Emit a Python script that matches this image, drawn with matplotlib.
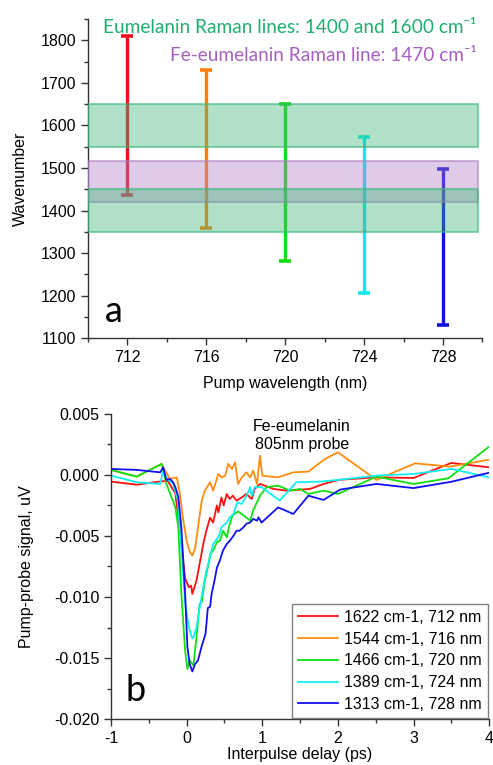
import numpy as np
import matplotlib
matplotlib.use("Agg")
import matplotlib.pyplot as plt
from matplotlib.ticker import MultipleLocator, FormatStrFormatter

plt.rcParams['font.family'] = ['Liberation Sans', 'DejaVu Sans']
plt.rcParams['axes.unicode_minus'] = False

# ---- panel a: Raman-shift ranges per pump wavelength ----
pump_wl = [712, 716, 720, 724, 728]
wn_high = [1810, 1730, 1650, 1574, 1497]
wn_low = [1436, 1358, 1281, 1206, 1131]
bar_colors = ['#f01020', '#ff8010', '#10e010', '#10e8f0', '#1010e0']

# Raman bands: green (1600), purple (1470), green (1400)
band_low = [1550, 1420, 1350]
band_high = [1650, 1517, 1450]
band_colors = ['#3cb878', '#b07fc5', '#3cb878']

# ---- panel b: pump-probe traces (values in 1e-3 uV) ----
red_x = [-1, -0.66, -0.33, -0.25, -0.15, -0.08, -0.02, 0.03, 0.06, 0.075, 0.13, 0.18, 0.22, 0.26,
         0.31, 0.35, 0.40, 0.42, 0.46, 0.49, 0.53, 0.57, 0.61, 0.66, 0.73, 0.79, 0.86, 0.90, 0.97,
         1.15, 1.32, 1.63, 1.81, 2.02, 2.51, 3.0, 3.5, 4.0]
red_y = [-0.55, -0.8, -0.52, -0.5, -1.5, -5.0, -8.5, -9.2, -9.07, -9.75, -8.66, -7.0, -5.66, -4.57,
         -3.5, -3.9, -2.5, -3.07, -1.84, -2.5, -1.56, -1.97, -1.7, -2.1, -1.84, -1.56, -1.97, -1.15, -0.74,
         -1.15, -1.29, -1.15, -0.74, -0.4, -0.2, -0.25, 0.98, 0.62]

orange_x = [-1, -0.66, -0.33, -0.31, -0.22, -0.13, -0.09, -0.05, 0.0, 0.04, 0.075, 0.11, 0.15, 0.20,
            0.24, 0.31, 0.35, 0.42, 0.46, 0.51, 0.55, 0.60, 0.64, 0.68, 0.73, 0.79, 0.84, 0.88, 0.93,
            0.97, 1.0, 1.21, 1.41, 1.61, 1.83, 2.0, 2.51, 3.02, 3.48, 4.0]
orange_y = [0.41, -0.14, 0.9, 0.62, -0.33, -0.2, -1.56, -3.48, -5.4, -6.3, -6.6, -6.07, -4.3, -2.1,
            -1.29, -0.6, -1.29, 0.08, -0.2, -0.06, 0.9, 0.49, 1.03, -0.74, -0.2, 0.21, -0.2, 0.35, -0.74,
            1.58, -0.06, -0.2, 0.21, 0.27, 1.31, 1.85, -0.41, 0.95, 0.68, 1.25]

green_x = [-1, -0.66, -0.33, -0.27, -0.2, -0.15, -0.11, -0.07, -0.02, 0.01, 0.04, 0.09, 0.13, 0.17,
           0.20, 0.24, 0.29, 0.31, 0.35, 0.40, 0.44, 0.48, 0.53, 0.57, 0.61, 0.68, 0.75, 0.84, 0.88,
           0.97, 1.06, 1.21, 1.37, 1.50, 1.61, 1.81, 2.0, 2.51, 3.0, 3.46, 4.0]
green_y = [0.41, -0.14, 0.9, -0.69, -1.84, -2.66, -4.3, -9.75, -14.4, -15.9, -15.2, -15.6, -13.3, -10.6,
           -10.4, -8.66, -7.3, -6.5, -6.2, -5.5, -5.4, -4.57, -5.1, -4.0, -3.3, -3.0, -3.3, -3.75, -2.9,
           -1.7, -1.0, -0.88, -1.29, -1.15, -1.56, -1.29, -1.56, -0.14, -0.74, -0.28, 2.32]

cyan_x = [-1, -0.66, -0.35, -0.31, -0.25, -0.18, -0.12, -0.07, -0.02, 0.03, 0.075, 0.09, 0.13, 0.18,
          0.22, 0.26, 0.31, 0.35, 0.42, 0.46, 0.53, 0.57, 0.62, 0.67, 0.73, 0.79, 0.84, 0.86, 0.90,
          0.99, 1.23, 1.45, 1.76, 2.0, 2.51, 3.0, 3.5, 4.0]
cyan_y = [-0.06, -0.6, -0.74, 0.35, -0.4, -0.7, -2.0, -6.0, -10.5, -12.5, -13.4, -13.3, -12.5, -10.6,
          -9.2, -7.85, -6.75, -5.66, -5.1, -4.3, -3.9, -3.48, -3.2, -2.25, -2.38, -1.7, -1.0, -1.7, -1.0,
          -1.0, -2.1, -0.6, -0.55, -0.41, -0.06, 0.08, 0.49, -0.2]

blue_x = [-1, -0.66, -0.35, -0.31, -0.27, -0.22, -0.18, -0.15, -0.11, -0.07, -0.02, 0.01, 0.04, 0.075,
          0.11, 0.15, 0.20, 0.25, 0.28, 0.31, 0.33, 0.37, 0.40, 0.44, 0.48, 0.53, 0.57, 0.62, 0.66,
          0.70, 0.75, 0.79, 0.84, 0.88, 0.93, 0.95, 0.99, 1.21, 1.41, 1.61, 1.81, 2.03, 2.51, 3.0,
          3.5, 4.0]
blue_y = [0.49, 0.41, 0.21, 0.62, -0.41, -0.33, -0.6, -1.0, -1.8, -4.3, -9.75, -14.1, -15.5, -16.1,
          -15.5, -15.2, -14.0, -13.0, -10.9, -10.8, -9.75, -8.6, -7.6, -7.0, -6.2, -5.66, -5.4, -4.98, -4.57,
          -4.57, -4.3, -4.0, -3.9, -3.6, -3.75, -3.48, -3.9, -2.66, -3.2, -1.7, -2.05, -1.2, -0.74, -1.08,
          -0.56, 0.18]

trace_labels = ['1622 cm-1, 712 nm', '1544 cm-1, 716 nm', '1466 cm-1, 720 nm',
                '1389 cm-1, 724 nm', '1313 cm-1, 728 nm']
trace_colors = ['#ff1010', '#ff8c10', '#10e010', '#10f0f0', '#1010f0']
traces = [(red_x, red_y), (orange_x, orange_y), (green_x, green_y), (cyan_x, cyan_y), (blue_x, blue_y)]

fig = plt.figure(figsize=(4.93, 7.65), dpi=100)
ax1 = fig.add_axes([0.1785, 0.558, 0.800, 0.417])
ax2 = fig.add_axes([0.2252, 0.060, 0.767, 0.399])

fs = 11.5
label_font = ['Lato', 'DejaVu Sans']

# panel a
for x, hi, lo, c in zip(pump_wl, wn_high, wn_low, bar_colors):
    ax1.errorbar(x, (hi + lo) / 2, yerr=(hi - lo) / 2, fmt='none', ecolor=c,
                 elinewidth=2.4, capsize=4.5, capthick=2.6, zorder=2)
for lo, hi, c in zip(band_low, band_high, band_colors):
    ax1.fill_between([710, 729.8], lo, hi, facecolor=c, alpha=0.4, edgecolor='none', zorder=3)
    ax1.fill_between([710, 729.8], lo, hi, facecolor='none', edgecolor=c, alpha=0.6,
                     linewidth=1.5, zorder=3)

ax1.set_xlim(710, 730)
ax1.set_ylim(1100, 1850)
ax1.xaxis.set_minor_locator(MultipleLocator(2))
ax1.yaxis.set_major_locator(MultipleLocator(100))
ax1.yaxis.set_minor_locator(MultipleLocator(50))
ax1.set_xticks(pump_wl)
ax1.set_xlabel('Pump wavelength (nm)', fontsize=fs, labelpad=8)
ax1.set_ylabel('Wavenumber', fontsize=fs, labelpad=9)
ax1.text(0.985, 0.975, 'Eumelanin Raman lines: 1400 and 1600 cm\u207b\u00b9', transform=ax1.transAxes,
         ha='right', va='center', fontsize=13.7, color='#1fae6e', family=label_font)
ax1.text(0.985, 0.885, 'Fe-eumelanin Raman line: 1470 cm\u207b\u00b9', transform=ax1.transAxes,
         ha='right', va='center', fontsize=13.7, color='#a660c0', family=label_font)
ax1.text(0.065, 0.085, 'a', transform=ax1.transAxes, ha='center', va='center',
         fontsize=26, family=label_font)

# panel b
for (tx, ty), c, lab in zip(traces, trace_colors, trace_labels):
    ax2.plot(tx, np.array(ty) * 1e-3, color=c, linewidth=1.3, label=lab)

ax2.set_xlim(-1, 4)
ax2.set_ylim(-0.020, 0.005)
ax2.xaxis.set_major_locator(MultipleLocator(1))
ax2.xaxis.set_minor_locator(MultipleLocator(0.5))
ax2.yaxis.set_major_locator(MultipleLocator(0.005))
ax2.yaxis.set_minor_locator(MultipleLocator(0.0025))
ax2.yaxis.set_major_formatter(FormatStrFormatter('%.3f'))
ax2.set_xlabel('Interpulse delay (ps)', fontsize=fs, labelpad=1)
ax2.set_ylabel('Pump-probe signal, uV', fontsize=fs, labelpad=14)
ax2.text(0.505, 0.93, 'Fe-eumelanin\n805nm probe', transform=ax2.transAxes, ha='center',
         va='center', fontsize=fs, linespacing=1.25)
ax2.text(0.065, 0.095, 'b', transform=ax2.transAxes, ha='center', va='center',
         fontsize=26, family=label_font)
ax2.legend(loc='lower right', fontsize=fs, frameon=True, fancybox=False, edgecolor='#808080',
           framealpha=1, handlelength=2.5, handletextpad=0.4, labelspacing=0.42,
           borderpad=0.35, borderaxespad=0.1)

for ax in (ax1, ax2):
    for s in ('top', 'right'):
        ax.spines[s].set_visible(False)
    for s in ('left', 'bottom'):
        ax.spines[s].set_color('#333333')
        ax.spines[s].set_linewidth(1.0)
    ax.tick_params(axis='both', which='major', direction='out', length=5, width=1,
                   labelsize=fs, color='#333333')
    ax.tick_params(axis='both', which='minor', direction='out', length=3, width=1, color='#333333')

fig.savefig('out.png', dpi=100)
